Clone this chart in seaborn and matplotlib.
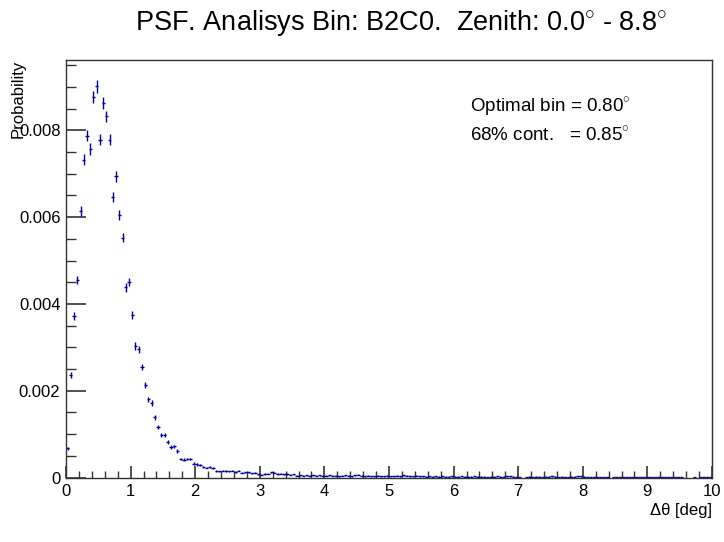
import matplotlib

matplotlib.use("Agg")
import matplotlib.pyplot as plt
import numpy as np
import pandas as pd
import seaborn as sns
from matplotlib.ticker import FixedLocator, FuncFormatter, MultipleLocator

# histogram: 200 bins of 0.05 deg from 0 to 10
bin_width = 0.05
n_bins = 200
n_events = 460000  # sets the Poisson error bars

# bins 0..40
prob_core = [
    0.00067, 0.00237, 0.00373, 0.00455, 0.00615, 0.00732, 0.00788, 0.00757,
    0.00877, 0.00901, 0.00778, 0.00863, 0.00832, 0.00778, 0.00647, 0.00694,
    0.00605, 0.00553, 0.00438, 0.00450, 0.00375, 0.00303, 0.00295, 0.00255,
    0.00214, 0.00180, 0.00172, 0.00139, 0.00116, 0.00099, 0.00098, 0.00082,
    0.00070, 0.00072, 0.00061, 0.00043, 0.00041, 0.00043, 0.00043, 0.00032,
    0.00030,
]
# bins 41..199, in units of 1e-5 (0 = empty bin)
prob_tail_e5 = [
    29, 24, 23, 24, 22, 15, 14, 16, 15, 14, 16, 13, 16, 11, 12, 12, 10, 11, 7, 6,
    8, 9, 12, 11, 8, 9, 7, 8, 6, 7, 4, 5, 4, 5, 4, 5, 4, 5, 4, 4,
    5, 4, 4, 3, 4, 5, 4, 3, 5, 6, 4, 3, 4, 3, 3, 4, 3, 3, 4, 3,
    3, 4, 3, 5, 4, 3, 3, 4, 3, 3, 2, 3, 2, 3, 2, 3, 2, 2, 3, 2,
    2, 3, 2, 2, 2, 3, 2, 2, 2, 1.5, 2, 2, 2.5, 2, 2, 3, 3, 2, 2, 1.5,
    0, 1.5, 2, 1.5, 2, 2, 1.5, 2, 2, 2.5, 2, 1.5, 2, 1.5, 1.5, 2, 2, 3, 2.5, 2,
    1.5, 1.5, 1, 1.5, 1, 1.5, 1, 0, 1.5, 1, 1, 1.5, 1, 1, 1, 1, 1, 0.8, 0.8, 0.6,
    0.6, 0.6, 0.5, 0.5, 0.6, 0.5, 0.5, 0.4, 0.5, 0.5, 0, 0, 0, 0.5, 0, 0.4, 0.4, 0.4, 0.4,
]

title = "PSF. Analisys Bin: B2C0.  Zenith: 0.0$^{\\circ}$ - 8.8$^{\\circ}$"
info_lines = ["Optimal bin = 0.80$^{\\circ}$", "68% cont.   = 0.85$^{\\circ}$"]

prob = np.array(prob_core + [v * 1e-5 for v in prob_tail_e5])
df = pd.DataFrame(
    {
        "theta": (np.arange(n_bins) + 0.5) * bin_width,
        "prob": prob,
        "err": np.sqrt(prob / n_events),
    }
)
df = df[df["prob"] > 0]

sns.set_theme(style="white")
plt.rcParams.update(
    {
        "font.family": ["Liberation Sans", "DejaVu Sans"],
        "mathtext.fontset": "custom",
        "mathtext.rm": "Liberation Sans",
        "text.color": "black",
        "axes.edgecolor": "#333333",
        "axes.linewidth": 1.0,
    }
)

fig = plt.figure(figsize=(7.24, 5.42), dpi=100)
ax = fig.add_axes([0.0912, 0.119, 0.8922, 0.7703])

navy = "#000099"
ax.errorbar(
    df["theta"], df["prob"], xerr=bin_width / 2, yerr=df["err"],
    fmt="none", ecolor=navy, elinewidth=1.0, capsize=0,
)
sns.despine(ax=ax, top=False, right=False)

ax.set_xlim(0, 10)
ax.set_ylim(0, 0.00962)
ax.xaxis.set_major_locator(MultipleLocator(1))
ax.xaxis.set_minor_locator(MultipleLocator(0.2))
ax.yaxis.set_major_locator(FixedLocator([0, 0.002, 0.004, 0.006, 0.008]))
ax.yaxis.set_minor_locator(MultipleLocator(0.0005))
ax.yaxis.set_major_formatter(FuncFormatter(lambda v, p: "0" if v == 0 else f"{v:.3f}"))

ax.tick_params(axis="both", which="both", direction="in", colors="#333333",
               labelcolor="black", labelsize=12, top=False, right=False,
               bottom=True, left=True)
ax.tick_params(axis="y", which="major", length=14.4, width=1.2, pad=4)
ax.tick_params(axis="y", which="minor", length=7, width=1.0)
ax.tick_params(axis="x", which="major", length=8.6, width=1.2, pad=5)
ax.tick_params(axis="x", which="minor", length=4.8, width=1.0)

fig.text(0.554, 0.958, title, ha="center", va="center", fontsize=19.5)
fig.text(0.025, 0.889, "Probability", rotation=90, ha="center", va="top",
         fontsize=12)
fig.text(0.983, 0.058, "Δθ [deg]", ha="right", va="center", fontsize=12)
ax.text(0.626, 0.888, info_lines[0], transform=ax.transAxes, ha="left",
        va="center", fontsize=13.5)
ax.text(0.626, 0.821, info_lines[1], transform=ax.transAxes, ha="left",
        va="center", fontsize=13.5)

fig.savefig("out.png", dpi=100, facecolor="white")
